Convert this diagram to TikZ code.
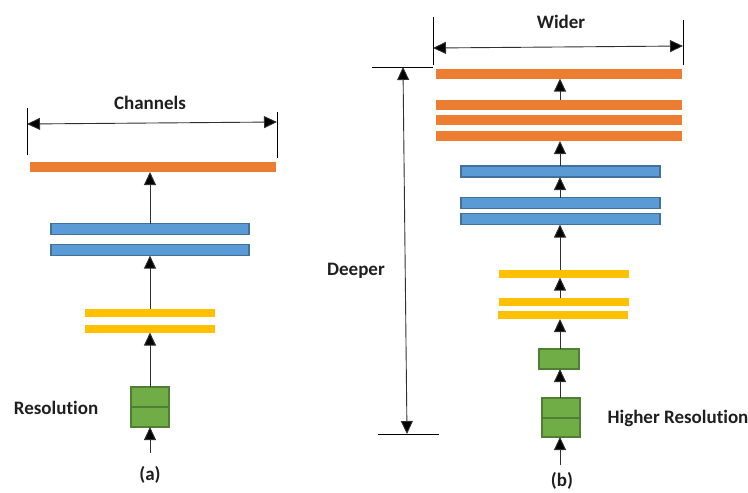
\documentclass[tikz,border=0pt]{standalone}
\usepackage{fontspec}
\setmainfont[Ligatures=NoCommon]{Carlito}
\usetikzlibrary{arrows.meta}
\definecolor{barorange}{HTML}{ED7D31}
\definecolor{barblue}{HTML}{5B9BD5}
\definecolor{barblueedge}{HTML}{41719C}
\definecolor{baryellow}{HTML}{FFC000}
\definecolor{bargreen}{HTML}{70AD47}
\definecolor{bargreenedge}{HTML}{507E32}
\definecolor{linegray}{HTML}{303030}
\tikzset{
  bar/.style={rectangle, inner sep=0pt, outer sep=0pt},
  obar/.style={bar, fill=barorange, minimum height=10pt},
  bbar/.style={bar, fill=barblue, draw=barblueedge, line width=1.4pt, minimum height=11pt},
  ybar/.style={bar, fill=baryellow, minimum height=8pt},
  gbox/.style={bar, fill=bargreen, draw=bargreenedge, line width=1.5pt},
  flow/.style={draw=linegray, line width=1pt, -{Triangle[width=12pt,length=13pt,fill=black]}},
  dim/.style={draw=linegray, line width=0.9pt, {Triangle[width=12pt,length=13pt,fill=black]}-{Triangle[width=12pt,length=13pt,fill=black]}},
  tick/.style={draw=black, line width=0.9pt},
  lbl/.style={font=\fontsize{19}{22}\selectfont\bfseries, text=black!88, inner sep=0pt}
}
\begin{document}
\begin{tikzpicture}[x=1pt,y=-1pt]
\useasboundingbox (0,0) rectangle (748,493);

% ---------- (a) baseline network ----------
\node[obar, minimum width=246pt] (ao) at (153,167) {};
\node[bbar, minimum width=198pt] (ab1) at (150,229) {};
\node[bbar, minimum width=198pt] (ab2) at (150,250) {};
\node[ybar, minimum width=130pt] (ay1) at (150,313) {};
\node[ybar, minimum width=130pt] (ay2) at (150,328.5) {};
\node[gbox, minimum width=38pt, minimum height=40pt] (ag) at (150,407) {};
\draw[bargreenedge, line width=2pt] (ag.west) -- (ag.east);
\coordinate (ain) at (150,453);

\draw[flow] (ain) -- (ag.south);
\draw[flow] (ag.north) -- (ag.north |- ay2.south);
\draw[flow] (ay1.north) -- (ay1.north |- ab2.south);
\draw[flow] (ab1.north) -- (ab1.north |- ao.south);

% channel width dimension
\coordinate (cl1) at (27,108);
\coordinate (cl2) at (27,155);
\coordinate (cr1) at (277,112);
\coordinate (cr2) at (277,158);
\draw[tick] (cl1) -- (cl2);
\draw[tick] (cr1) -- (cr2);
\coordinate (ca) at (27,124);
\coordinate (cb) at (277,122);
\draw[dim] (ca) -- (cb);
\node[lbl] (chan) at (150,103) {Channels};
\node[lbl] (res) at (56,408) {Resolution};
\node[lbl] (capa) at (150,475) {(a)};

% ---------- (b) scaled network ----------
\node[obar, minimum width=246pt] (bo1) at (559,73.5) {};
\node[obar, minimum width=246pt] (bo2) at (559,104.5) {};
\node[obar, minimum width=246pt] (bo3) at (559,120) {};
\node[obar, minimum width=246pt] (bo4) at (559,136) {};
\node[bbar, minimum width=199pt] (bb1) at (560.5,171.5) {};
\node[bbar, minimum width=199pt] (bb2) at (560.5,203) {};
\node[bbar, minimum width=199pt] (bb3) at (560.5,219) {};
\node[ybar, minimum width=130pt] (by1) at (564,273.5) {};
\node[ybar, minimum width=130pt] (by2) at (564,302) {};
\node[ybar, minimum width=130pt] (by3) at (563,315) {};
\node[gbox, minimum width=40pt, minimum height=20pt] (bg1) at (559,359) {};
\node[gbox, minimum width=38pt, minimum height=39pt] (bg2) at (561,417.5) {};
\draw[bargreenedge, line width=2pt] (bg2.west) -- (bg2.east);
\coordinate (bin) at (560,465);

\draw[flow] (bin) -- (bin |- bg2.south);
\draw[flow] (bin |- bg2.north) -- (bin |- bg1.south);
\draw[flow] (bin |- bg1.north) -- (bin |- by3.south);
\draw[flow] (bin |- by2.north) -- (bin |- by1.south);
\draw[flow] (bin |- by1.north) -- (bin |- bb3.south);
\draw[flow] (bin |- bb2.north) -- (bin |- bb1.south);
\draw[flow] (bin |- bb1.north) -- (bin |- bo4.south);
\draw[flow] (bin |- bo2.north) -- (bin |- bo1.south);

% width dimension
\coordinate (wl1) at (433,17);
\coordinate (wl2) at (433,65);
\coordinate (wr1) at (683,20);
\coordinate (wr2) at (683,65);
\draw[tick] (wl1) -- (wl2);
\draw[tick] (wr1) -- (wr2);
\coordinate (wa) at (433,48);
\coordinate (wb) at (683,46);
\draw[dim] (wa) -- (wb);
\node[lbl] (wider) at (561,22) {Wider};

% depth dimension
\coordinate (dt1) at (372,67);
\coordinate (dt2) at (433,67);
\coordinate (db1) at (378,434);
\coordinate (db2) at (439,434);
\draw[tick] (dt1) -- (dt2);
\draw[tick] (db1) -- (db2);
\coordinate (da) at (403,67);
\coordinate (dbb) at (407,434);
\draw[dim] (da) -- (dbb);
\node[lbl] (deeper) at (356,271) {Deeper};

\node[lbl] (hres) at (678,418) {Higher Resolution};
\node[lbl] (capb) at (562,481) {(b)};
\end{tikzpicture}
\end{document}
